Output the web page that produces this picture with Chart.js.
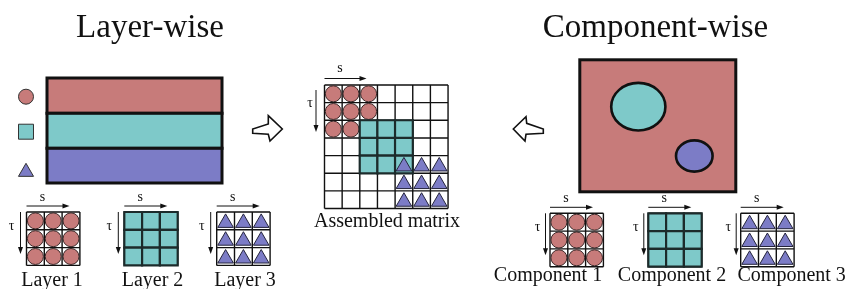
<!DOCTYPE html>
<html>
<head>
<meta charset="utf-8">
<style>
  html, body { margin: 0; padding: 0; background: #fff; }
  #wrap { width: 848px; height: 289px; }
</style>
<script src="https://cdn.jsdelivr.net/npm/chart.js@4/dist/chart.umd.min.js"></script>
</head>
<body>
<div id="wrap"><canvas id="fig"></canvas></div>
<script>
// ---- content ----
const panelTitles = ['Layer-wise', 'Component-wise'];
const layerLabels = ['Layer 1', 'Layer 2', 'Layer 3'];
const componentLabels = ['Component 1', 'Component 2', 'Component 3'];
const matrixLabel = 'Assembled matrix';
const axisNames = ['s', 'τ'];
const shapeOf = ['circle', 'rect', 'triangle'];   // marker for layer / component k
const blockRow = [0, 2, 4];                       // block k's top-left cell in the assembled matrix
const blockCol = [0, 2, 4];
const blockSize = 3;
const matrixSize = 7;

// ---- layout & style ----
const W = 848, H = 289;
const SERIF = '"Liberation Serif", "Times New Roman", serif';
const INK = '#111';
const FILL = ['#c77b7a', '#7ec9c9', '#7c7cc6'];
const EDGE = ['#3b2828', '#1c2b2b', '#24243c'];
const CELL = 17.8;
const layerGrids = { xs: [26.5, 124.3, 216.7], y: 212, labelX: [52, 152.5, 245], labelY: 286, tauDx: -15, tauArrowDx: -6 };
const compGrids = { xs: [550, 648.3, 740.7], y: 213.3, labelX: [548, 672, 791.7], labelY: 281, tauDx: -12.5, tauArrowDx: -4.5 };
const MAT = { x: 324.5, y: 85, cell: 17.65, labelX: 387, labelY: 226.5 };
const bands = { x1: 47, x2: 222, ys: [78, 113.3, 148.3, 183] };
const compBox = { x1: 579.8, y1: 59.8, x2: 735.8, y2: 191.8 };
const regions = [
  { cx: 638.3, cy: 106.7, rx: 27.1, ry: 23.8, k: 1 },
  { cx: 694.3, cy: 156, rx: 18.3, ry: 15.6, k: 2 }
];
const legendX = 26, legendY = [96.7, 131.7, 172];
const arrowR = { cx: 267, cy: 129, pts: [[1.3, -13.3], [15.3, 0], [3, 12], [1.3, 5.3], [-14.3, 4.3], [-14.3, 0], [1.3, -5]] };
const arrowL = { cx: 528, cy: 129, pts: [[-14.7, 0], [-2, -12.3], [-1.3, -5.7], [15.3, 0], [15.3, 4.3], [-2, 5.3], [-3, 12]] };

function cellPoints(x0, y0, cs, r0, c0, n, dy) {
    const pts = [];
    for (let r = 0; r < n; r++)
        for (let c = 0; c < n; c++)
            pts.push({ x: x0 + (c0 + c + 0.5) * cs, y: y0 + (r0 + r + 0.5) * cs + dy });
    return pts;
}

function shapePoints(k, dy) {
    return [
        ...cellPoints(layerGrids.xs[k], layerGrids.y, CELL, 0, 0, blockSize, dy),
        ...cellPoints(compGrids.xs[k], compGrids.y, CELL, 0, 0, blockSize, dy),
        ...cellPoints(MAT.x, MAT.y, MAT.cell, blockRow[k], blockCol[k], blockSize, dy)
    ];
}

const markerSize = { circle: 8, rect: CELL / Math.SQRT2, triangle: 9 };
const markerDy = { circle: 0, rect: 0, triangle: 2 };
const markerBorder = { circle: 1, rect: 2.2, triangle: 1 };
const drawOrder = { circle: 3, rect: 2, triangle: 1 };

const datasets = shapeOf.map((st, k) => ({
    label: st,
    data: shapePoints(k, markerDy[st]),
    order: drawOrder[st],
    pointStyle: st,
    pointRadius: markerSize[st],
    pointBackgroundColor: FILL[k],
    pointBorderColor: EDGE[k],
    pointBorderWidth: markerBorder[st],
    clip: false
}));

datasets.push({
    label: 'legend',
    data: legendY.map(y => ({ x: legendX, y })),
    order: 0,
    pointStyle: shapeOf,
    pointRadius: [7.5, 10.6, 8.7],
    pointBackgroundColor: FILL,
    pointBorderColor: '#333',
    pointBorderWidth: 1,
    clip: false
});

// ---- drawing helpers (all through the scales) ----
function arrowLine(ctx, X, Y, x1, y1, x2, y2) {
    const a = Math.atan2(Y(y2) - Y(y1), X(x2) - X(x1));
    ctx.strokeStyle = INK; ctx.fillStyle = INK; ctx.lineWidth = 1;
    ctx.beginPath(); ctx.moveTo(X(x1), Y(y1)); ctx.lineTo(X(x2) - 5 * Math.cos(a), Y(y2) - 5 * Math.sin(a)); ctx.stroke();
    ctx.beginPath();
    ctx.moveTo(X(x2), Y(y2));
    ctx.lineTo(X(x2) - 7 * Math.cos(a) + 2.5 * Math.sin(a), Y(y2) - 7 * Math.sin(a) - 2.5 * Math.cos(a));
    ctx.lineTo(X(x2) - 7 * Math.cos(a) - 2.5 * Math.sin(a), Y(y2) - 7 * Math.sin(a) + 2.5 * Math.cos(a));
    ctx.closePath(); ctx.fill();
}

function gridLines(ctx, X, Y, x0, y0, cs, n) {
    ctx.fillStyle = '#fff';
    ctx.fillRect(X(x0), Y(y0), X(x0 + n * cs) - X(x0), Y(y0 + n * cs) - Y(y0));
    ctx.strokeStyle = INK; ctx.lineWidth = 1.4;
    ctx.beginPath();
    for (let i = 0; i <= n; i++) {
        ctx.moveTo(X(x0 + i * cs), Y(y0)); ctx.lineTo(X(x0 + i * cs), Y(y0 + n * cs));
        ctx.moveTo(X(x0), Y(y0 + i * cs)); ctx.lineTo(X(x0 + n * cs), Y(y0 + i * cs));
    }
    ctx.stroke();
}

function axes(ctx, X, Y, x0, y0, tauDx, tauArrowDx, sDy) {
    arrowLine(ctx, X, Y, x0, y0 - 6, x0 + 43, y0 - 6);
    arrowLine(ctx, X, Y, x0 + tauArrowDx, y0, x0 + tauArrowDx, y0 + 42);
    ctx.fillStyle = INK; ctx.font = '14px ' + SERIF; ctx.textAlign = 'center';
    ctx.textBaseline = 'alphabetic';
    ctx.fillText(axisNames[0], X(x0 + 16), Y(y0 + sDy));
    ctx.textBaseline = 'middle';
    ctx.fillText(axisNames[1], X(x0 + tauDx), Y(y0 + 14));
}

function bigArrow(ctx, X, Y, a) {
    ctx.beginPath();
    a.pts.forEach(([dx, dy], i) => i ? ctx.lineTo(X(a.cx + dx), Y(a.cy + dy)) : ctx.moveTo(X(a.cx + dx), Y(a.cy + dy)));
    ctx.closePath();
    ctx.fillStyle = '#fff'; ctx.fill();
    ctx.strokeStyle = INK; ctx.lineWidth = 1.6; ctx.lineJoin = 'miter'; ctx.stroke();
}

const diagram = {
    id: 'diagram',
    beforeDatasetsDraw(chart) {
        const { ctx, scales: { x, y } } = chart;
        const X = v => x.getPixelForValue(v), Y = v => y.getPixelForValue(v);
        ctx.save();

        // titles
        ctx.fillStyle = INK; ctx.font = '33px ' + SERIF; ctx.textAlign = 'center'; ctx.textBaseline = 'alphabetic';
        ctx.fillText(panelTitles[0], X(150), Y(37));
        ctx.fillText(panelTitles[1], X(655.5), Y(37));

        // layer bands
        ctx.lineWidth = 3; ctx.strokeStyle = INK;
        for (let k = 0; k < 3; k++) {
            const y1 = bands.ys[k], y2 = bands.ys[k + 1];
            ctx.fillStyle = FILL[k];
            ctx.fillRect(X(bands.x1), Y(y1), X(bands.x2) - X(bands.x1), Y(y2) - Y(y1));
            ctx.strokeRect(X(bands.x1), Y(y1), X(bands.x2) - X(bands.x1), Y(y2) - Y(y1));
        }

        // component domain
        ctx.fillStyle = FILL[0];
        ctx.fillRect(X(compBox.x1), Y(compBox.y1), X(compBox.x2) - X(compBox.x1), Y(compBox.y2) - Y(compBox.y1));
        ctx.strokeRect(X(compBox.x1), Y(compBox.y1), X(compBox.x2) - X(compBox.x1), Y(compBox.y2) - Y(compBox.y1));
        ctx.lineWidth = 2.6;
        regions.forEach(r => {
            ctx.beginPath();
            ctx.ellipse(X(r.cx), Y(r.cy), X(r.cx + r.rx) - X(r.cx), Y(r.cy + r.ry) - Y(r.cy), 0, 0, Math.PI * 2);
            ctx.fillStyle = FILL[r.k]; ctx.fill(); ctx.stroke();
        });

        // arrows between panels
        bigArrow(ctx, X, Y, arrowR);
        bigArrow(ctx, X, Y, arrowL);

        // small grids
        [layerGrids, compGrids].forEach(g => {
            g.xs.forEach(x0 => {
                gridLines(ctx, X, Y, x0, g.y, CELL, blockSize);
                axes(ctx, X, Y, x0, g.y, g.tauDx, g.tauArrowDx, -11);
            });
        });

        // assembled matrix
        gridLines(ctx, X, Y, MAT.x, MAT.y, MAT.cell, matrixSize);
        arrowLine(ctx, X, Y, MAT.x, MAT.y - 6.5, MAT.x + 42, MAT.y - 6.5);
        arrowLine(ctx, X, Y, MAT.x - 8.5, MAT.y + 5, MAT.x - 8.5, MAT.y + 47);
        ctx.fillStyle = INK; ctx.font = '14px ' + SERIF; ctx.textAlign = 'center';
        ctx.textBaseline = 'alphabetic';
        ctx.fillText(axisNames[0], X(MAT.x + 15.5), Y(MAT.y - 13));
        ctx.textBaseline = 'middle';
        ctx.fillText(axisNames[1], X(MAT.x - 14.5), Y(MAT.y + 18));

        // captions
        ctx.font = '20px ' + SERIF; ctx.textBaseline = 'alphabetic';
        layerLabels.forEach((t, i) => ctx.fillText(t, X(layerGrids.labelX[i]), Y(layerGrids.labelY)));
        componentLabels.forEach((t, i) => ctx.fillText(t, X(compGrids.labelX[i]), Y(compGrids.labelY)));
        ctx.fillText(matrixLabel, X(MAT.labelX), Y(MAT.labelY));

        ctx.restore();
    }
};

new Chart(document.getElementById('fig'), {
    type: 'scatter',
    data: { datasets },
    options: {
        responsive: true,
        maintainAspectRatio: false,
        animation: false,
        events: [],
        layout: { padding: 0, autoPadding: false },
        scales: {
            x: { type: 'linear', min: 0, max: W, display: false },
            y: { type: 'linear', min: 0, max: H, reverse: true, display: false }
        },
        plugins: { legend: { display: false }, tooltip: { enabled: false } }
    },
    plugins: [diagram]
});
</script>
</body>
</html>
